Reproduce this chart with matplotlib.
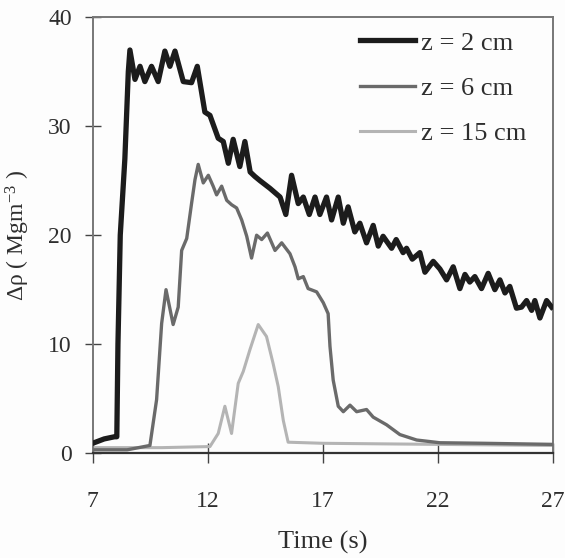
import matplotlib.pyplot as plt
import numpy as np

# time (s) and density difference (Mg m^-3)
t_2cm = [7.0, 7.5, 7.95, 8.05, 8.1, 8.2, 8.4, 8.55, 8.62, 8.84, 9.06, 9.27, 9.56, 9.85,
         10.14, 10.36, 10.58, 10.94, 11.30, 11.55, 11.88, 12.1, 12.46, 12.68, 12.90,
         13.11, 13.40, 13.62, 13.85, 14.05, 14.28, 14.71, 15.15, 15.40, 15.65, 15.94,
         16.16, 16.42, 16.67, 16.88, 17.17, 17.39, 17.68, 17.90, 18.11, 18.40, 18.62,
         18.91, 19.2, 19.42, 19.63, 20.0, 20.2, 20.5, 20.65, 20.9, 21.23, 21.45, 21.81,
         22.1, 22.39, 22.68, 22.97, 23.19, 23.4, 23.62, 23.91, 24.2, 24.49, 24.71,
         24.93, 25.14, 25.43, 25.65, 25.87, 26.09, 26.23, 26.45, 26.74, 26.96]
rho_2cm = [0.9, 1.3, 1.5, 1.5, 10.0, 20.0, 27.0, 35.0, 37.0, 34.3, 35.5, 34.1, 35.5, 34.1,
           36.9, 35.5, 36.9, 34.1, 34.0, 35.5, 31.3, 31.0, 28.9, 28.6, 26.6,
           28.8, 26.3, 28.6, 25.8, 25.4, 25.0, 24.3, 23.5, 21.9, 25.5, 22.9,
           23.5, 21.9, 23.5, 21.9, 23.5, 21.4, 23.5, 21.1, 22.6, 20.3, 21.1,
           19.3, 20.9, 19.0, 19.9, 18.8, 19.6, 18.4, 18.8, 17.8, 18.4, 16.6, 17.6,
           16.9, 15.9, 17.1, 15.1, 16.4, 15.7, 16.2, 15.1, 16.5, 15.0, 15.9,
           14.7, 15.3, 13.3, 13.4, 14.0, 13.1, 14.0, 12.4, 14.0, 13.4]

t_6cm = [7.0, 8.5, 9.49, 9.78, 10.0, 10.19, 10.5, 10.72, 10.87, 11.09, 11.3, 11.45, 11.59,
         11.81, 12.03, 12.24, 12.39, 12.61, 12.83, 13.04, 13.26, 13.48, 13.7, 13.91,
         14.13, 14.35, 14.6, 14.93, 15.22, 15.58, 15.8, 15.94, 16.16, 16.37, 16.74,
         17.03, 17.24, 17.32, 17.46, 17.68, 17.9, 18.19, 18.48, 18.91, 19.2, 19.78,
         20.36, 21.09, 22.1, 24.0, 27.0]
rho_6cm = [0.3, 0.3, 0.7, 4.9, 11.9, 15.0, 11.8, 13.4, 18.6, 19.7, 22.9, 25.1, 26.5,
           24.8, 25.5, 24.5, 23.7, 24.5, 23.2, 22.8, 22.5, 21.4, 19.9, 17.9,
           20.0, 19.6, 20.2, 18.6, 19.3, 18.3, 17.1, 16.0, 16.2, 15.1, 14.8,
           13.8, 12.8, 9.8, 6.7, 4.3, 3.8, 4.4, 3.8, 4.0, 3.3, 2.6,
           1.7, 1.2, 0.95, 0.9, 0.8]

t_15cm = [7.0, 10.0, 12.1, 12.46, 12.75, 13.04, 13.33, 13.55, 13.84, 14.2, 14.56, 14.85,
          15.07, 15.29, 15.5, 17.0, 22.0, 27.0]
rho_15cm = [0.5, 0.5, 0.6, 1.8, 4.3, 1.8, 6.4, 7.5, 9.5, 11.8, 10.7, 8.2,
            6.1, 3.0, 1.0, 0.9, 0.8, 0.7]

labels = ['z = 2 cm', 'z = 6 cm', 'z = 15 cm']
x_ticks = [7, 12, 17, 22, 27]
y_ticks = [0, 10, 20, 30, 40]

plt.rcParams['font.family'] = ['Liberation Serif', 'DejaVu Serif']
plt.rcParams['mathtext.default'] = 'regular'
txt = '#2e2e2e'

fig = plt.figure(figsize=(5.65, 5.58), dpi=100, facecolor='#fdfdfd')
ax = fig.add_axes([0.164, 0.188, 0.814, 0.781], facecolor='#fdfdfd')

ax.plot(t_2cm, rho_2cm, color='#1c1c1c', lw=3.8, solid_joinstyle='round', label=labels[0], zorder=4)
ax.plot(t_6cm, rho_6cm, color='#6a6a6a', lw=2.4, solid_joinstyle='round', label=labels[1], zorder=3)
ax.plot(t_15cm, rho_15cm, color='#b4b4b4', lw=2.2, solid_joinstyle='round', label=labels[2], zorder=2)

ax.set_xlim(7, 27)
ax.set_ylim(0, 40)
ax.set_xticks(x_ticks)
ax.set_yticks(y_ticks)

for s in ['top', 'left', 'right']:
    ax.spines[s].set_color('#777777')
    ax.spines[s].set_linewidth(1.4)
ax.spines['bottom'].set_color('#333333')
ax.spines['bottom'].set_linewidth(1.6)

ax.tick_params(axis='y', direction='inout', length=12, width=1.0, colors='#444444',
               labelsize=17, labelcolor=txt, pad=9)
ax.tick_params(axis='x', direction='inout', length=14, width=1.0, colors='#444444',
               labelsize=17, labelcolor=txt, pad=20)

ax.set_xlabel('Time (s)', fontsize=19, color=txt, labelpad=14)
ax.set_ylabel('Δρ ( Mgm$^{-3}$ )', fontsize=17, color=txt, labelpad=12)

ax.legend(loc='upper left', bbox_to_anchor=(0.581, 0.968), frameon=False, fontsize=19,
          handlelength=2.1, handletextpad=0.2, labelspacing=0.83, borderpad=0,
          borderaxespad=0, labelcolor=txt)

fig.savefig('out.png', dpi=100, facecolor=fig.get_facecolor())
